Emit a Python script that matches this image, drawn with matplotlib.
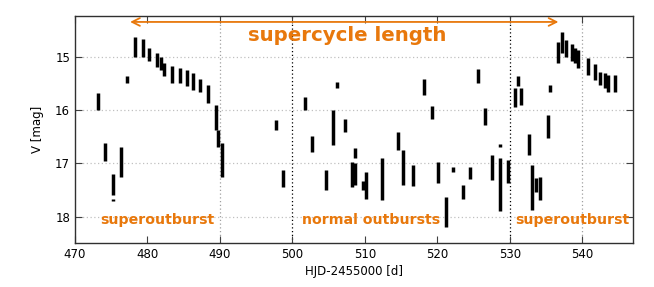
import numpy as np
import matplotlib
matplotlib.use('agg')
import matplotlib.pyplot as plt

# Nightly light-curve segments: HJD-2455000, brightest and faintest V magnitude
day = [473.2, 474.2, 475.3, 475.3, 476.35, 477.2, 478.3, 479.35, 480.2, 481.3,
       481.8, 482.3, 483.4, 484.5, 485.4, 486.3, 487.3, 488.3, 489.4, 489.7,
       490.25, 497.7, 498.7, 501.75, 502.7, 504.65, 505.66, 506.2, 507.2, 508.2,
       508.66, 508.66, 509.7, 510.2, 512.35, 514.6, 515.2, 516.6, 518.1, 519.25,
       520.15, 521.2, 522.2, 523.6, 524.5, 525.6, 526.6, 527.5, 528.6, 528.6,
       529.7, 530.65, 531.1, 531.6, 532.6, 533.1, 533.6, 534.2, 535.2, 535.6,
       536.6, 537.2, 537.7, 538.6, 539.0, 539.4, 540.8, 541.7, 542.5, 543.1,
       543.6, 544.45]
mag_hi = [15.69, 16.61, 17.20, 17.66, 16.69, 15.37, 14.64, 14.67, 14.84, 14.94,
          15.00, 15.12, 15.17, 15.22, 15.25, 15.31, 15.42, 15.53, 15.90, 16.37,
          16.62, 16.19, 17.12, 15.75, 16.49, 17.12, 15.99, 15.48, 16.16, 16.97,
          16.72, 17.00, 17.33, 17.16, 16.90, 16.42, 16.75, 17.03, 15.42, 15.92,
          16.97, 17.63, 17.07, 17.41, 17.06, 15.24, 15.97, 16.84, 16.64, 16.90,
          16.94, 15.59, 15.37, 15.59, 16.44, 17.03, 17.28, 17.25, 16.09, 15.54,
          14.72, 14.54, 14.69, 14.77, 14.84, 14.87, 15.03, 15.14, 15.28, 15.31,
          15.34, 15.34]
mag_lo = [16.00, 16.95, 17.59, 17.70, 17.25, 15.50, 15.00, 15.00, 15.09, 15.19,
          15.25, 15.36, 15.49, 15.50, 15.55, 15.62, 15.66, 15.86, 16.37, 16.69,
          17.25, 16.37, 17.44, 16.00, 16.78, 17.49, 16.66, 15.59, 16.41, 17.44,
          16.90, 17.41, 17.50, 17.66, 17.69, 16.74, 17.41, 17.43, 15.72, 16.17,
          17.37, 18.19, 17.16, 17.66, 17.30, 15.50, 16.28, 17.31, 16.70, 17.90,
          17.37, 15.94, 15.55, 15.90, 16.84, 17.87, 17.53, 17.69, 16.53, 15.66,
          15.12, 14.94, 15.00, 15.09, 15.12, 15.22, 15.34, 15.44, 15.53, 15.59,
          15.66, 15.66]

orange = '#e8780c'

fig = plt.figure(figsize=(6.54, 2.87), dpi=100)
ax = fig.add_axes([0.1147, 0.1533, 0.8533, 0.7907])

# grid like the original: dotted lines only at a few places
for m in [15, 16, 17, 18]:
    ax.axhline(m, color='#c0c0c0', lw=0.9, ls=(0, (1, 2)), zorder=0)
for d in [490, 540]:
    ax.axvline(d, color='#a0a0a0', lw=0.9, ls=(0, (1, 2)), zorder=0)
for d in [500, 530]:
    ax.axvline(d, color='black', lw=0.9, ls=(0, (1, 2)), zorder=0)

ax.vlines(day, mag_hi, mag_lo, colors='black', lw=2.5, zorder=2)

ax.set_xlim(470, 547)
ax.set_ylim(18.49, 14.24)
ax.set_xticks(range(470, 541, 10))
ax.set_yticks([15, 16, 17, 18])
ax.tick_params(direction='in', top=True, right=True, length=5, labelsize=8.5,
               color='#404040')
for s in ax.spines.values():
    s.set_color('#303030')
    s.set_linewidth(1.0)
ax.set_xlabel('HJD-2455000 [d]', fontsize=8.5, labelpad=3)
ax.set_ylabel('V [mag]', fontsize=8.5, labelpad=8)

ax.annotate('', xy=(477.6, 14.35), xytext=(536.7, 14.35),
            arrowprops=dict(arrowstyle='<->', color=orange, lw=1.3,
                            mutation_scale=14, shrinkA=0, shrinkB=0))
ax.text(507.6, 14.6, 'supercycle length', color=orange, fontsize=14.2,
        fontweight='bold', ha='center', va='center')
ax.text(473.45, 18.06, 'superoutburst', color=orange, fontsize=10.2,
        fontweight='bold', ha='left', va='center')
ax.text(501.3, 18.06, 'normal outbursts', color=orange, fontsize=10.2,
        fontweight='bold', ha='left', va='center')
ax.text(530.75, 18.06, 'superoutburst', color=orange, fontsize=10.2,
        fontweight='bold', ha='left', va='center')

fig.savefig('out.png', dpi=100)
